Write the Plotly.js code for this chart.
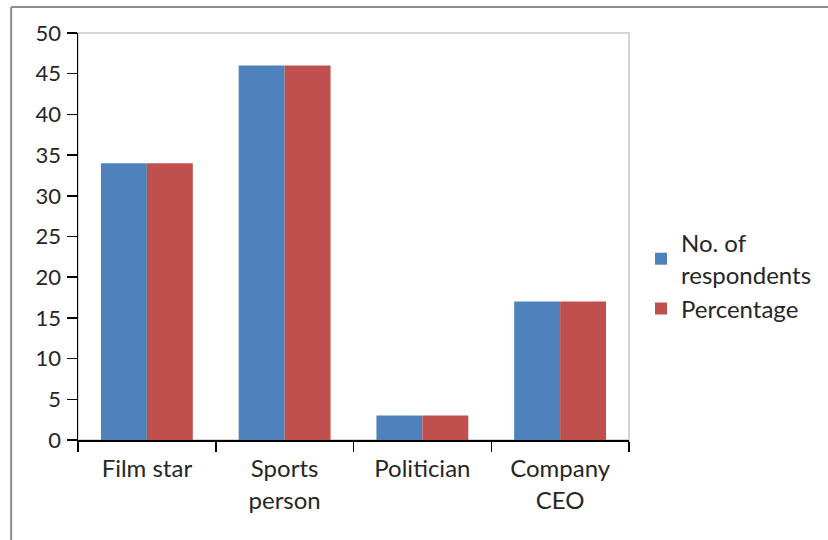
<!DOCTYPE html>
<html>
<head>
<meta charset="utf-8">
<script src="https://cdn.plot.ly/plotly-3.0.1.min.js"></script>
<style>html,body{margin:0;padding:0;background:#fff;}#chart{width:828px;height:540px;}</style>
</head>
<body>
<div id="chart"></div>
<script>
const categories = ["Film star", "Sports<br>person", "Politician", "Company<br>CEO"];
const respondents = [34, 46, 3, 17];
const percentage = [34, 46, 3, 17];
const seriesNames = ["No. of<br>respondents", "Percentage"];
const yTicks = [0, 5, 10, 15, 20, 25, 30, 35, 40, 45, 50];

const FONT = "Lato, 'Open Sans', sans-serif";
const TXT = "#262626";

const data = [
  {type: "bar", x: categories, y: respondents, name: seriesNames[0],
   marker: {color: "#4f81bd"}},
  {type: "bar", x: categories, y: percentage, name: seriesNames[1],
   marker: {color: "#c0504d"}}
];

const L = 78, R = 630, T = 33, B = 440, W = 828, H = 540;
const px = v => (v - L) / (R - L);
const py = v => (B - v) / (B - T);

const layout = {
  width: W, height: H,
  margin: {l: L, r: W - R, t: T, b: H - B, pad: 0},
  paper_bgcolor: "#fff", plot_bgcolor: "#fff",
  font: {family: FONT, size: 24, color: TXT},
  barmode: "group", bargap: 0.333, bargroupgap: 0,
  xaxis: {type: "category", showline: true, linecolor: "#000", linewidth: 1.5,
          ticks: "outside", tickson: "boundaries", ticklen: 10, tickwidth: 1.5, tickcolor: "#000",
          showgrid: false, zeroline: false, fixedrange: true, ticklabelstandoff: 7,
          tickfont: {family: FONT, size: 24, color: TXT}},
  yaxis: {range: [0, 50], tickvals: yTicks, ticktext: yTicks.map(String),
          showline: true, linecolor: "#000", linewidth: 1.5,
          ticks: "outside", ticklen: 10, tickwidth: 1.5, tickcolor: "#000",
          showgrid: false, zeroline: false, fixedrange: true, ticklabelstandoff: 1,
          tickfont: {family: FONT, size: 22, color: TXT}},
  showlegend: true,
  legend: {x: px(641), xanchor: "left", y: py(276), yanchor: "middle",
           font: {family: FONT, size: 24, color: TXT}, bgcolor: "rgba(0,0,0,0)",
           tracegroupgap: 0, itemclick: false},
  shapes: [
    {type: "rect", xref: "paper", yref: "paper", x0: 0, x1: 1, y0: 0, y1: 1,
     line: {color: "#d4d4d4", width: 2}, layer: "below"},
    {type: "line", xref: "paper", yref: "paper", x0: px(11), x1: px(11), y0: py(7), y1: py(545),
     line: {color: "#8c8c8c", width: 2}},
    {type: "line", xref: "paper", yref: "paper", x0: px(11), x1: px(830), y0: py(7), y1: py(7),
     line: {color: "#8c8c8c", width: 2}}
  ]
};

Plotly.newPlot("chart", data, layout, {displayModeBar: false, staticPlot: true});
</script>
</body>
</html>
